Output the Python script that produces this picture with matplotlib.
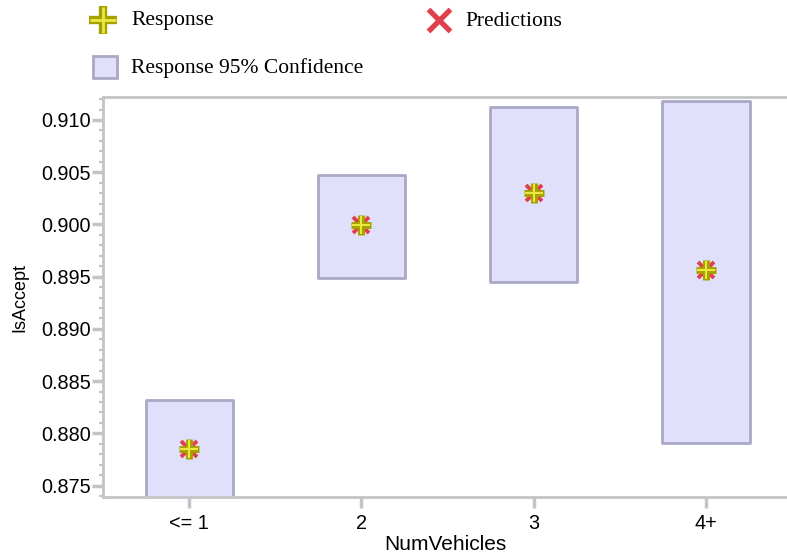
import matplotlib
matplotlib.use("Agg")
import matplotlib.pyplot as plt
from matplotlib.patches import Rectangle
from matplotlib.lines import Line2D
import numpy as np

categories = ["<= 1", "2", "3", "4+"]
response = [0.8785, 0.8999, 0.9030, 0.8956]
predictions = [0.8785, 0.8999, 0.9030, 0.8956]
ci_lower = [0.8700, 0.8949, 0.8945, 0.8791]
ci_upper = [0.8832, 0.9047, 0.9112, 0.9118]

W, H = 787, 560
fig = plt.figure(figsize=(W/100, H/100), dpi=100)
ax = fig.add_axes([103/W, 1-497/H, 1-103/W, (497-97)/H])

gray = "#c4c4c8"
box_edge = "#a9a9c6"
box_face = "#e0e0fc"
olive = "#a8a000"
yellow = "#e8e840"
red = "#e0404a"
x = np.arange(len(categories))
half = 0.253
for xi, lo, hi in zip(x, ci_lower, ci_upper):
    ax.add_patch(Rectangle((xi-half, lo), 2*half, hi-lo, facecolor=box_face,
                           edgecolor=box_edge, linewidth=2, zorder=2,
                           joinstyle="round"))

ax.plot(x, predictions, linestyle="none", marker="x", markersize=11,
        markeredgecolor=red, markeredgewidth=2.8, zorder=3)
ax.plot(x, response, linestyle="none", marker="+", markersize=14,
        markeredgecolor=olive, markeredgewidth=5, zorder=4)
ax.plot(x, response, linestyle="none", marker="+", markersize=12.5,
        markeredgecolor=yellow, markeredgewidth=1.5, zorder=5)

ax.set_xlim(-0.5, 3.47)
ax.set_ylim(0.8739, 0.9122)
ax.set_xticks(x)
ax.set_xticklabels(categories)
yt = [0.875, 0.880, 0.885, 0.890, 0.895, 0.900, 0.905, 0.910]
ax.set_yticks(yt)
ax.set_yticklabels([f"{v:.3f}" for v in yt])
ax.set_yticks(np.arange(0.874, 0.9125, 0.001), minor=True)

ax.spines["right"].set_visible(False)
for s in ["left", "top", "bottom"]:
    ax.spines[s].set_color(gray)
    ax.spines[s].set_linewidth(2)

ax.tick_params(axis="both", which="major", colors=gray, width=2.5, length=8, labelcolor="black", pad=1)
ax.tick_params(axis="y", which="minor", colors=gray, width=1.5, length=3)
ax.tick_params(axis="x", which="major", length=8, pad=4)
for lab in ax.get_xticklabels() + ax.get_yticklabels():
    lab.set_fontfamily("Liberation Sans")
    lab.set_fontsize(14.3)

ax.set_xlabel("NumVehicles", fontfamily="Liberation Sans", fontsize=15, labelpad=2)
fig.text(20/W, 1-297/H, "IsAccept", rotation=90, ha="center", va="center",
         fontfamily="Liberation Sans", fontsize=13)

# Legend
def fx(px): return px/W
def fy(py): return 1-py/H
fig.add_artist(Line2D([fx(103)], [fy(20)], transform=fig.transFigure, linestyle="none",
                      marker="+", markersize=20, markeredgecolor=olive, markeredgewidth=6))
fig.add_artist(Line2D([fx(103)], [fy(20)], transform=fig.transFigure, linestyle="none",
                      marker="+", markersize=18.5, markeredgecolor=yellow, markeredgewidth=2))
fig.text(fx(131), fy(21), "Response", ha="left", va="center",
         fontfamily="Liberation Serif", fontsize=15.5)
fig.add_artist(Line2D([fx(439)], [fy(20)], transform=fig.transFigure, linestyle="none",
                      marker="x", markersize=16, markeredgecolor=red, markeredgewidth=3.8))
fig.text(fx(465), fy(21), "Predictions", ha="left", va="center",
         fontfamily="Liberation Serif", fontsize=15.5)
fig.add_artist(Rectangle((fx(93), fy(78)), 24/W, 22/H, transform=fig.transFigure,
                         facecolor=box_face, edgecolor=box_edge, linewidth=2))
fig.text(fx(131), fy(68), "Response 95% Confidence", ha="left", va="center",
         fontfamily="Liberation Serif", fontsize=15.5)

fig.savefig("out.png", dpi=100)
